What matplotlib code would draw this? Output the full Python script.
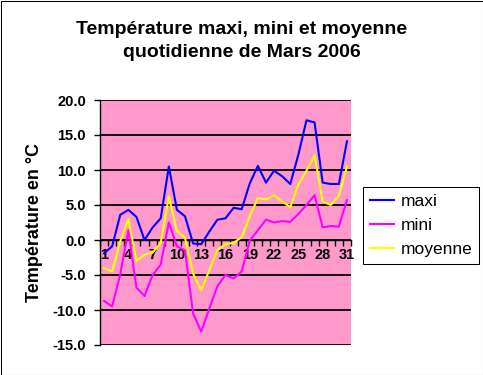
import matplotlib
matplotlib.use("Agg")
import matplotlib.pyplot as plt
from matplotlib.patches import Rectangle

days = list(range(1, 32))
maxi = [-1.9, -0.9, 3.6, 4.3, 3.3, 0.0, 1.8, 3.1, 10.5, 4.3, 3.4, -0.5, -0.6, 1.2, 2.9,
        3.1, 4.6, 4.4, 8.1, 10.6, 8.2, 9.9, 9.1, 8.0, 12.2, 17.1, 16.8, 8.2, 8.0, 8.0, 14.1]
mini = [-8.7, -9.5, -4.9, 1.4, -6.8, -8.0, -5.0, -3.5, 2.5, -0.9, -1.5, -10.5, -13.1, -9.8, -6.6,
        -5.0, -5.5, -4.5, -0.1, 1.4, 2.9, 2.5, 2.7, 2.6, 3.7, 5.0, 6.4, 1.8, 2.0, 1.9, 5.7]
moyenne = [-4.0, -4.5, -0.2, 3.0, -3.0, -2.1, -1.8, -0.4, 6.2, 1.3, 0.3, -4.8, -7.2, -4.3, -1.4,
           -0.6, -0.4, 0.4, 3.4, 6.0, 5.8, 6.4, 5.5, 4.7, 7.9, 9.9, 12.1, 5.5, 5.0, 6.3, 10.5]
series_names = ["maxi", "mini", "moyenne"]
series_colors = ["#0000FF", "#FF00FF", "#FFFF00"]
yticks = [20, 15, 10, 5, 0, -5, -10, -15]
xlabels_days = [1, 4, 7, 10, 13, 16, 19, 22, 25, 28, 31]

W, H = 483, 375
fig = plt.figure(figsize=(W / 100, H / 100), dpi=100)
fig.patch.set_facecolor("white")
fig.add_artist(Rectangle((0.5 / W, 0.5 / H), (W - 1) / W, (H - 1) / H, transform=fig.transFigure,
                         fill=False, edgecolor="black", linewidth=0.75))

font = "Liberation Sans"
ax = fig.add_axes([100 / W, (H - 345) / H, 251 / W, 245 / H])
ax.set_facecolor("#FF99CC")

for vals, name, col in zip([maxi, mini, moyenne], series_names, series_colors):
    ax.plot(days, vals, color=col, linewidth=1.5, label=name, zorder=3)

ax.set_xlim(0.5, 31.5)
ax.set_ylim(-15, 20)
ax.set_yticks(yticks)
ax.set_yticklabels([f"{v:.1f}" for v in yticks], fontfamily=font, fontweight="bold", fontsize=10.5)
ax.yaxis.grid(True, color="black", linewidth=1.3)
ax.set_axisbelow(True)
ax.tick_params(axis="y", direction="out", length=4, width=1, pad=6)

ax.spines["top"].set_visible(False)
ax.spines["right"].set_visible(False)
ax.spines["left"].set_linewidth(1)
ax.spines["bottom"].set_position(("data", 0))
ax.spines["bottom"].set_linewidth(1)
ax.spines["bottom"].set_zorder(2)

ax.set_xticks(xlabels_days)
ax.set_xticklabels([str(d) for d in xlabels_days], fontfamily=font, fontweight="bold", fontsize=10.5)
ax.set_xticks([d + 0.5 for d in range(0, 32)], minor=True)
ax.tick_params(axis="x", which="major", length=0, pad=6)
ax.tick_params(axis="x", which="minor", direction="out", length=4, width=1)

ax.set_ylabel("Température en °C", fontfamily=font, fontweight="bold", fontsize=13, labelpad=7)

fig.text(0.5, 1 - 41 / H, "Température maxi, mini et moyenne\nquotidienne de Mars 2006",
         ha="center", va="center", fontfamily=font, fontweight="bold", fontsize=14, linespacing=1.4)

leg = fig.legend(loc="upper left", bbox_to_anchor=(363 / W, 1 - 187 / H), bbox_transform=fig.transFigure,
                 prop={"family": font, "size": 12.5}, frameon=True, fancybox=False, framealpha=1,
                 edgecolor="black", handlelength=1.4, handletextpad=0.35, borderpad=0.4, labelspacing=0.5,
                 borderaxespad=0)
leg.get_frame().set_linewidth(0.75)

fig.savefig("out.png", dpi=100)
